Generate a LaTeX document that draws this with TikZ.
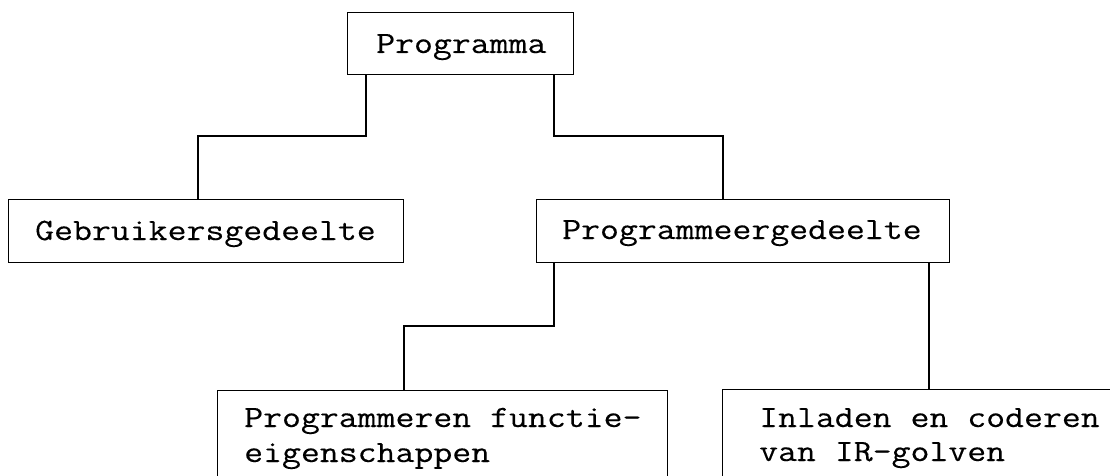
\documentclass[tikz,border=0pt]{standalone}
\usepackage{fontspec}
\setmonofont[FakeStretch=1.185,FakeBold=0.3]{Latin Modern Mono}
\begin{document}
\begin{tikzpicture}[x=1pt,y=-1pt,
  box/.style={draw,line width=1.4pt,anchor=north west,inner sep=0pt},
  lbl/.style={font=\ttfamily\fontsize{31}{35}\selectfont,anchor=base west,inner sep=0pt},
  conn/.style={line width=1.4pt}]
\useasboundingbox (0,0) rectangle (1110,476);
\clip (0,0) rectangle (1110,476);
% boxes
\node[box,minimum width=226pt,minimum height=62pt] (prog) at (347,12) {};
\node[box,minimum width=395pt,minimum height=63pt] (geb) at (8,199) {};
\node[box,minimum width=413pt,minimum height=63pt] (pg) at (536,199) {};
\node[box,minimum width=450pt,minimum height=120pt] (pf) at (217,390) {};
\node[box,minimum width=420pt,minimum height=120pt] (ir) at (722,389) {};
% texts
\node[lbl] (tprog) at (376,53) {Programma};
\node[lbl] (tgeb) at (35,240) {Gebruikersgedeelte};
\node[lbl] (tpg) at (562,239) {Programmeergedeelte};
\node[lbl] (tpfa) at (244,427) {Programmeren functie-};
\node[lbl] (tpfb) at (244,462) {eigenschappen};
\node[lbl] (tira) at (759,427) {Inladen en coderen};
\node[lbl] (tirb) at (759,461) {van IR-golven};
% connectors
\coordinate (j1) at (198,136);
\coordinate (j2) at (723,136);
\coordinate (j3) at (404,326);
\draw[conn] ([xshift=19pt]prog.south west) |- (j1) -- (j1 |- geb.north);
\draw[conn] ([xshift=207pt]prog.south west) |- (j2) -- (j2 |- pg.north);
\draw[conn] ([xshift=18pt]pg.south west) |- (j3) -- (j3 |- pf.north);
\draw[conn] ([xshift=393pt]pg.south west) -- ([xshift=393pt]pg.south west |- ir.north);
\end{tikzpicture}
\end{document}
